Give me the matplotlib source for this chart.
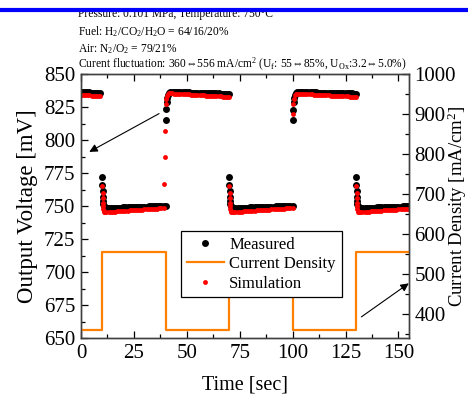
import numpy as np
import matplotlib
matplotlib.use("Agg")
import matplotlib.pyplot as plt
from matplotlib.lines import Line2D

plt.rcParams['font.family'] = ['Liberation Serif', 'DejaVu Serif']
plt.rcParams['mathtext.fontset'] = 'custom'
plt.rcParams['mathtext.rm'] = 'Liberation Serif'
plt.rcParams['mathtext.it'] = 'Liberation Serif:italic'

# measured output voltage [mV]
meas_t = [0, 1, 2, 3, 4, 5, 6, 7, 8, 9,
          10.0, 10.1, 10.2, 10.3, 10.4, 10.6, 10.8, 11.2, 11.7, 12.3,
          13, 14, 15, 16, 17, 18, 19, 20, 21, 22, 23, 24, 25, 26, 27, 28,
          29, 30, 31, 32, 33, 34, 35, 36, 37, 38, 39, 40,
          40.2, 40.3, 40.5, 40.7, 41.0, 41.5, 42.0,
          43, 44, 45, 46, 47, 48, 49, 50, 51, 52, 53, 54, 55, 56, 57, 58,
          59, 60, 61, 62, 63, 64, 65, 66, 67, 68, 69, 70,
          70.0, 70.1, 70.2, 70.3, 70.4, 70.6, 70.8, 71.2, 71.7, 72.3,
          73, 74, 75, 76, 77, 78, 79, 80, 81, 82, 83, 84, 85, 86, 87, 88,
          89, 90, 91, 92, 93, 94, 95, 96, 97, 98, 99, 100,
          100.2, 100.3, 100.5, 100.7, 101.0, 101.5, 102.0,
          103, 104, 105, 106, 107, 108, 109, 110, 111, 112, 113, 114, 115,
          116, 117, 118, 119, 120, 121, 122, 123, 124, 125, 126, 127, 128,
          129, 130,
          130.0, 130.1, 130.2, 130.3, 130.4, 130.6, 130.8, 131.2, 131.7, 132.3,
          133, 134, 135, 136, 137, 138, 139, 140, 141, 142, 143, 144, 145,
          146, 147, 148, 149, 150, 151, 152, 153, 154, 155]
meas_v = [836.2, 836.1, 836.1, 836.0, 836.0, 835.9, 835.9, 835.8, 835.8, 835.8,
          772, 766, 761, 757, 754, 751.5, 750, 749, 748.6, 748.4,
          748.4, 748.5, 748.6, 748.6, 748.7, 748.8, 748.8, 748.9, 749.0, 749.0,
          749.1, 749.2, 749.2, 749.3, 749.4, 749.4, 749.5, 749.6, 749.6, 749.7,
          749.8, 749.8, 749.9, 750.0, 750.0, 750.1, 750.2, 750.3,
          815, 823.5, 829, 832, 834.2, 835.6, 836.3,
          836.4, 836.3, 836.3, 836.2, 836.2, 836.1, 836.1, 836.0, 836.0, 835.9,
          835.9, 835.8, 835.8, 835.7, 835.7, 835.6, 835.6, 835.5, 835.5, 835.4,
          835.4, 835.3, 835.3, 835.2, 835.2, 835.1, 835.1, 835.0,
          772, 766, 761, 757, 754, 751.5, 750, 749, 748.6, 748.4,
          748.4, 748.5, 748.5, 748.6, 748.7, 748.7, 748.8, 748.9, 749.0, 749.0,
          749.1, 749.1, 749.2, 749.3, 749.3, 749.4, 749.5, 749.5, 749.6, 749.7,
          749.7, 749.8, 749.9, 749.9, 750.0, 750.1, 750.1, 750.2,
          815, 823, 829, 832, 834.2, 835.6, 836.2,
          836.3, 836.3, 836.2, 836.2, 836.1, 836.1, 836.0, 836.0, 836.0, 835.9,
          835.9, 835.8, 835.8, 835.8, 835.7, 835.7, 835.6, 835.6, 835.6, 835.5,
          835.5, 835.4, 835.4, 835.4, 835.3, 835.3, 835.2, 835.2,
          772, 766, 761, 757, 754, 751.5, 750, 749, 748.6, 748.4,
          748.4, 748.5, 748.5, 748.6, 748.7, 748.7, 748.8, 748.9, 749.0, 749.0,
          749.1, 749.1, 749.2, 749.3, 749.3, 749.4, 749.5, 749.5, 749.6, 749.7,
          749.7, 749.8, 749.9]

# simulated output voltage [mV]
sim_t = [0, 1, 2, 3, 4, 5, 6, 7, 8, 9,
         10.1, 10.2, 10.3, 10.4, 10.5, 10.6, 10.8, 11.1, 11.5, 12.0,
         13, 14, 15, 16, 17, 18, 19, 20, 21, 22, 23, 24, 25, 26, 27, 28,
         29, 30, 31, 32, 33, 34, 35, 36, 37, 38, 39,
         39.4, 39.7, 39.9, 40.1, 40.3, 40.6, 41.0, 41.5, 42.0,
         43, 44, 45, 46, 47, 48, 49, 50, 51, 52, 53, 54, 55, 56, 57, 58,
         59, 60, 61, 62, 63, 64, 65, 66, 67, 68, 69, 70,
         70.1, 70.2, 70.3, 70.4, 70.5, 70.6, 70.8, 71.1, 71.5, 72.0,
         73, 74, 75, 76, 77, 78, 79, 80, 81, 82, 83, 84, 85, 86, 87, 88,
         89, 90, 91, 92, 93, 94, 95, 96, 97, 98, 99, 100,
         100.1, 100.3, 100.6, 101.0, 101.5, 102.0,
         103, 104, 105, 106, 107, 108, 109, 110, 111, 112, 113, 114, 115,
         116, 117, 118, 119, 120, 121, 122, 123, 124, 125, 126, 127, 128,
         129, 130,
         130.1, 130.2, 130.3, 130.4, 130.5, 130.6, 130.8, 131.1, 131.5, 132.0,
         133, 134, 135, 136, 137, 138, 139, 140, 141, 142, 143, 144, 145,
         146, 147, 148, 149, 150, 151, 152, 153, 154, 155]
sim_v = [833.9, 833.9, 833.8, 833.8, 833.8, 833.7, 833.7, 833.7, 833.6, 833.6,
         765, 760, 756, 752.5, 750, 748, 746.5, 745.8, 745.5, 745.4,
         745.5, 745.6, 745.7, 745.8, 745.9, 746.0, 746.1, 746.2, 746.4, 746.5,
         746.6, 746.7, 746.8, 746.9, 747.0, 747.1, 747.2, 747.4, 747.5, 747.6,
         747.7, 747.8, 747.9, 748.0, 748.2, 748.4, 748.6,
         767, 787, 807, 827, 831, 833.5, 834.8, 835.3, 835.4,
         835.3, 835.2, 835.1, 835.0, 834.9, 834.8, 834.7, 834.6, 834.5, 834.4,
         834.3, 834.2, 834.1, 834.0, 833.9, 833.8, 833.7, 833.6, 833.5, 833.4,
         833.3, 833.2, 833.1, 833.0, 832.9, 832.8, 832.8, 832.7,
         765, 760, 756, 752.5, 750, 748, 746.5, 745.8, 745.5, 745.4,
         745.5, 745.6, 745.7, 745.8, 745.9, 746.0, 746.1, 746.2, 746.4, 746.5,
         746.6, 746.7, 746.8, 746.9, 747.0, 747.1, 747.2, 747.4, 747.5, 747.6,
         747.7, 747.8, 747.9, 748.0, 748.2, 748.4, 748.6, 748.8,
         820, 827, 831, 834, 835, 835.2,
         835.1, 835.0, 834.9, 834.8, 834.7, 834.6, 834.5, 834.4, 834.4, 834.3,
         834.2, 834.1, 834.0, 833.9, 833.8, 833.7, 833.6, 833.5, 833.5, 833.4,
         833.3, 833.2, 833.1, 833.0, 832.9, 832.9, 832.8, 832.8,
         765, 760, 756, 752.5, 750, 748, 746.5, 745.8, 745.5, 745.4,
         745.5, 745.6, 745.7, 745.8, 745.9, 746.0, 746.1, 746.2, 746.4, 746.5,
         746.6, 746.7, 746.8, 746.9, 747.0, 747.1, 747.2, 747.4, 747.5, 747.6,
         747.7, 747.8, 747.9]

# current density steps [mA/cm2]
cd_t = [0, 10, 40, 70, 100, 130, 155]
cd_v = [360, 556, 360, 556, 360, 556, 556]

info_lines = [
    "Pressure: 0.101 MPa, Temperature: 750\u00b0C",
    "Fuel: H$_2$/CO$_2$/H$_2$O = 64/16/20%",
    "Air: N$_2$/O$_2$ = 79/21%",
    "Curent fluctuation: 360\u21d4556 mA/cm$^2$ (U$_\\mathrm{f}$: 55\u21d485%, "
    "U$_\\mathrm{Ox}$:3.2\u21d45.0%)",
]

W, H = 468, 398
fig = plt.figure(figsize=(W / 100, H / 100), dpi=100)
ax = fig.add_axes([81 / W, 1 - 338 / H, 328 / W, 264 / H])
ax2 = ax.twinx()

l_meas, = ax.plot(meas_t, meas_v, 'o', color='k', ms=5.0, mew=0, label='Measured')
l_sim, = ax.plot(sim_t, sim_v, 'o', color='#ff0000', ms=3.5, mew=0, label='Simulation')
l_cd, = ax2.plot(cd_t, cd_v, drawstyle='steps-post', color='#ff8000', lw=1.6,
                 label='Current Density')

ax.set_xlim(0, 155)
ax.set_ylim(650, 850)
ax2.set_ylim(340, 1000)
ax.set_xticks(np.arange(0, 151, 25))
ax.set_xticks(np.arange(12.5, 155, 12.5), minor=True)
ax.set_yticks(np.arange(650, 851, 25))
ax.set_yticks(np.arange(662.5, 850, 25), minor=True)
ax2.set_yticks(np.arange(400, 1001, 100))
ax2.set_yticks(np.arange(350, 1000, 50), minor=True)

ax.tick_params(which='both', direction='in', top=True, right=False,
               labelsize=15, pad=4)
ax.tick_params(which='major', length=5, width=0.9)
ax.tick_params(which='minor', length=3, width=0.9)
ax2.tick_params(which='both', direction='in', labelsize=15, pad=4)
ax2.tick_params(which='major', length=5, width=0.9)
ax2.tick_params(which='minor', length=3, width=0.9)
for a in (ax, ax2):
    for s in a.spines.values():
        s.set_linewidth(1.0)
        s.set_color('#404040')

ax.set_xlabel('Time [sec]', fontsize=14.5, labelpad=9)
ax.set_ylabel('Output Voltage [mV]', fontsize=16.5, labelpad=4)
ax2.set_ylabel('Current Density [mA/cm$^2$]', fontsize=13.5)
ax2.yaxis.set_label_coords(1.113, 0.5)

ax.annotate('', xy=(3.9, 791), xytext=(36.9, 820),
            arrowprops=dict(arrowstyle='-|>', color='k', lw=0.8,
                            mutation_scale=12, shrinkA=0, shrinkB=0),
            annotation_clip=False)
ax.annotate('', xy=(154.9, 691.4), xytext=(132.5, 666),
            arrowprops=dict(arrowstyle='-|>', color='k', lw=0.8,
                            mutation_scale=12, shrinkA=0, shrinkB=0),
            annotation_clip=False)

leg = ax2.legend([l_meas, l_cd, l_sim], ['Measured', 'Current Density', 'Simulation'],
                 loc='upper left', bbox_to_anchor=(0.305, 0.405), fontsize=12,
                 fancybox=False, framealpha=1, edgecolor='k', borderpad=0.35,
                 labelspacing=0.2, handlelength=2.2, handletextpad=0.35,
                 borderaxespad=0)
leg.get_frame().set_linewidth(0.9)

baselines = [16.5, 35, 52, 68]
for txt, yb in zip(info_lines, baselines):
    fig.text(78 / W, 1 - yb / H, txt, fontsize=8.3, va='baseline', ha='left')

fig.add_artist(Line2D([0, 1], [1 - 9.8 / H, 1 - 9.8 / H], color='#0000ff',
                      lw=3.0, zorder=10, transform=fig.transFigure))

fig.savefig('out.png', dpi=100)
